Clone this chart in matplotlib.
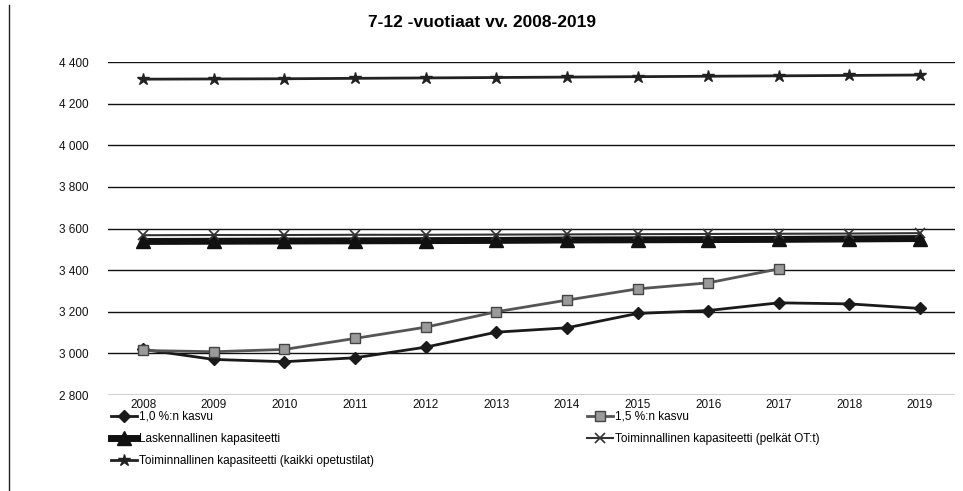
import matplotlib
matplotlib.use("Agg")
import matplotlib.pyplot as plt
from matplotlib.ticker import FuncFormatter

years = [str(y) for y in range(2008, 2020)]
kasvu_10 = [3019, 2971, 2960, 2979, 3030, 3102, 3123, 3192, 3206, 3243, 3238, 3216]
kasvu_15 = [3014, 3008, 3019, 3072, 3126, 3200, 3256, 3310, 3339, 3406]
laskennallinen = [3538, 3539, 3540, 3541, 3542, 3543, 3545, 3546, 3547, 3548, 3550, 3552]
toim_ot = [3568, 3569, 3569, 3570, 3570, 3571, 3572, 3573, 3574, 3575, 3576, 3578]
toim_kaikki = [4318, 4319, 4320, 4322, 4324, 4326, 4328, 4330, 4332, 4334, 4336, 4338]
yticks = [2800, 3000, 3200, 3400, 3600, 3800, 4000, 4200, 4400]

plt.rcParams['font.family'] = ['Liberation Sans', 'DejaVu Sans']

fig = plt.figure(figsize=(9.63, 4.91), dpi=100)
ax = fig.add_axes([0.112, 0.1955, 0.88, 0.678])

x = list(range(len(years)))
l1, = ax.plot(x, kasvu_10, color='#1a1a1a', lw=2.0, marker='D', ms=6,
              markerfacecolor='#1a1a1a', label='1,0 %:n kasvu', zorder=4)
l2, = ax.plot(x[:len(kasvu_15)], kasvu_15, color='#555555', lw=2.0, marker='s', ms=7,
              markerfacecolor='#9a9a9a', markeredgecolor='#444444', label='1,5 %:n kasvu', zorder=5)
l3, = ax.plot(x, laskennallinen, color='#111111', lw=5, marker='^', ms=10,
              markerfacecolor='#111111', label='Laskennallinen kapasiteetti', zorder=3)
l4, = ax.plot(x, toim_ot, color='#333333', lw=1.5, marker='x', ms=7, mew=1.2,
              label='Toiminnallinen kapasiteetti (pelkät OT:t)', zorder=4)
l5, = ax.plot(x, toim_kaikki, color='#222222', lw=2.0, marker='*', ms=9,
              label='Toiminnallinen kapasiteetti (kaikki opetustilat)', zorder=4)

ax.set_xlim(-0.5, len(years) - 0.5)
ax.set_ylim(2800, 4400)
ax.set_yticks(yticks)
ax.yaxis.set_major_formatter(FuncFormatter(lambda v, p: f"{int(v):,}".replace(",", " ")))
ax.set_xticks(x)
ax.set_xticklabels(years)
ax.tick_params(axis='both', length=0, labelsize=8.5, colors='#111111')
ax.tick_params(axis='x', pad=3)
ax.tick_params(axis='y', pad=14)
ax.grid(axis='y', color='#111111', lw=1.0)
ax.set_axisbelow(True)
for s in ax.spines.values():
    s.set_visible(False)

fig.text(0.5, 0.955, '7-12 -vuotiaat vv. 2008-2019', ha='center', va='center',
         fontsize=12.5, fontweight='bold')

fig.legend(handles=[l1, l3, l5, l2, l4], loc='upper left', bbox_to_anchor=(0.115, 0.163),
           ncol=2, frameon=False, fontsize=8.5, handlelength=2.2, handletextpad=0.2,
           columnspacing=18, labelspacing=0.85, borderaxespad=0, borderpad=0)

# outer chart border
fig.add_artist(plt.Line2D([0.009, 0.009], [0.0, 0.99], transform=fig.transFigure,
                          color='#222222', lw=1.0))

fig.savefig('out.png', dpi=100)
